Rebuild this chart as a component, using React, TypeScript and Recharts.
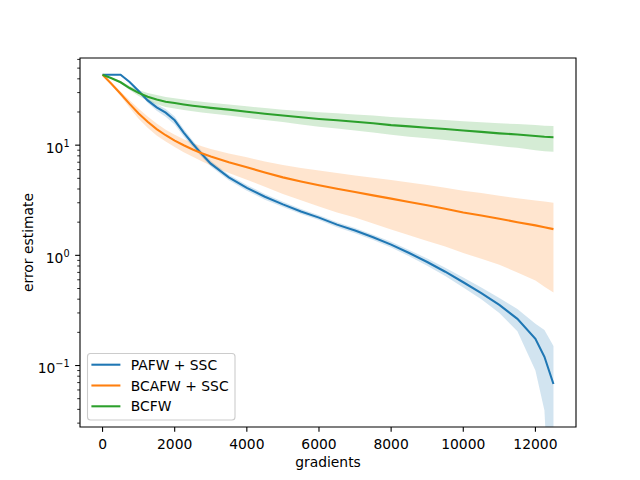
import React from 'react';
import { ComposedChart, Line, Area, XAxis, YAxis, Legend, ReferenceArea, Label } from 'recharts';

const gradients = [0, 250, 500, 750, 1000, 1250, 1500, 1750, 2000, 2250, 2500, 2750, 3000, 3500, 4000, 4500, 5000, 5500, 6000, 6500, 7000, 7500, 8000, 8500, 9000, 9500, 10000, 10500, 11000, 11500, 12000, 12250, 12500];

const pafwMean = [43.5, 43.5, 43.5, 37.5, 31, 25.5, 22, 19.7, 16.8, 13, 10.3, 8.3, 6.8, 5.1, 4.1, 3.4, 2.9, 2.5, 2.2, 1.9, 1.68, 1.46, 1.25, 1.05, 0.87, 0.71, 0.57, 0.455, 0.355, 0.265, 0.175, 0.12, 0.068];
const pafwLow = [43.5, 43.5, 43.5, 37, 30, 24.3, 20.5, 18.1, 15.4, 12, 9.6, 7.8, 6.4, 4.8, 3.85, 3.2, 2.74, 2.37, 2.09, 1.8, 1.59, 1.38, 1.175, 0.98, 0.805, 0.65, 0.51, 0.4, 0.3, 0.205, 0.09, 0.039, 0.001];
const pafwHigh = [43.5, 43.5, 43.5, 38, 32, 26.7, 23.5, 21.3, 18.2, 14, 11, 8.8, 7.2, 5.4, 4.35, 3.6, 3.06, 2.63, 2.31, 2.0, 1.77, 1.54, 1.325, 1.12, 0.935, 0.77, 0.63, 0.51, 0.41, 0.325, 0.24, 0.21, 0.15];

const bcafwMean = [43.5, 35.9, 29.3, 23.7, 19.4, 16.3, 14.0, 12.3, 11.0, 9.98, 9.14, 8.45, 7.89, 7.0, 6.3, 5.65, 5.1, 4.68, 4.33, 4.02, 3.75, 3.5, 3.27, 3.05, 2.85, 2.65, 2.45, 2.3, 2.15, 2.0, 1.87, 1.8, 1.73];
const bcafwLow = [43.5, 35.1, 27.9, 21.9, 17.4, 14.4, 12.25, 10.8, 9.6, 8.63, 7.84, 7.13, 6.54, 5.6, 4.85, 4.2, 3.6, 3.16, 2.78, 2.45, 2.2, 1.95, 1.72, 1.52, 1.35, 1.2, 1.05, 0.93, 0.82, 0.7, 0.59, 0.52, 0.46];
const bcafwHigh = [43.5, 36.7, 30.7, 25.5, 21.4, 18.2, 15.75, 13.8, 12.4, 11.33, 10.44, 9.77, 9.24, 8.4, 7.75, 7.1, 6.6, 6.2, 5.88, 5.59, 5.3, 5.05, 4.82, 4.58, 4.35, 4.1, 3.85, 3.67, 3.48, 3.3, 3.15, 3.08, 3.0];

const bcfwMean = [43.5, 40.5, 37.2, 33, 29.8, 27.5, 26, 24.8, 24.1, 23.4, 22.8, 22.3, 21.8, 21.0, 20.1, 19.3, 18.6, 17.9, 17.3, 16.8, 16.3, 15.8, 15.2, 14.8, 14.4, 14.0, 13.6, 13.2, 12.8, 12.5, 12.1, 11.9, 11.8];
const bcfwLow = [43.5, 40.0, 36.2, 31.6, 28.0, 25.3, 23.5, 22.2, 21.5, 20.8, 20.3, 19.8, 19.4, 18.6, 17.7, 16.9, 16.2, 15.4, 14.7, 14.15, 13.6, 13.05, 12.4, 11.95, 11.55, 11.12, 10.7, 10.25, 9.8, 9.45, 9.0, 8.8, 8.7];
const bcfwHigh = [43.5, 41.0, 38.2, 34.4, 31.6, 29.7, 28.5, 27.4, 26.7, 26.0, 25.3, 24.8, 24.2, 23.4, 22.5, 21.7, 21.0, 20.4, 19.9, 19.45, 19.0, 18.55, 18.0, 17.65, 17.25, 16.88, 16.5, 16.15, 15.8, 15.55, 15.2, 15.0, 14.9];

const xTicks = [0, 2000, 4000, 6000, 8000, 10000, 12000];
const yMajorTicks = [0.1, 1, 10];
const yMinorTicks = [0.03, 0.04, 0.05, 0.06, 0.07, 0.08, 0.09, 0.2, 0.3, 0.4, 0.5, 0.6, 0.7, 0.8, 0.9, 2, 3, 4, 5, 6, 7, 8, 9, 20, 30, 40, 50, 60];
const yTickLabels: Record<string, string> = { '0.1': '\u22121', '1': '0', '10': '1' };

const seriesNames = ['PAFW + SSC', 'BCAFW + SSC', 'BCFW'];
const seriesColors = ['#1f77b4', '#ff7f0e', '#2ca02c'];

const X_DOMAIN: [number, number] = [-625, 13125];
const Y_DOMAIN: [number, number] = [0.02767, 61.8];

const data = gradients.map((g, i) => ({
  g,
  pafw: pafwMean[i],
  pafwBand: [pafwLow[i], pafwHigh[i]],
  bcafw: bcafwMean[i],
  bcafwBand: [bcafwLow[i], bcafwHigh[i]],
  bcfw: bcfwMean[i],
  bcfwBand: [bcfwLow[i], bcfwHigh[i]],
}));

const FONT = 'DejaVu Sans';
const FS = 13.89;

const renderXTick = (props: any) => {
  const { x, y, payload } = props;
  return (
    <g>
      <line x1={x} x2={x} y1={y} y2={y + 4.86} stroke="#000" strokeWidth={1.1} />
      <text x={x} y={y + 22} textAnchor="middle" fontFamily={FONT} fontSize={FS} fill="#000">
        {String(payload.value)}
      </text>
    </g>
  );
};

const renderYTick = (props: any) => {
  const { x, y, payload } = props;
  const v = payload.value;
  const key = String(v);
  const isMajor = yMajorTicks.includes(v);
  if (!isMajor) {
    return <line x1={x - 2.78} x2={x} y1={y} y2={y} stroke="#000" strokeWidth={0.84} />;
  }
  return (
    <g>
      <line x1={x - 4.86} x2={x} y1={y} y2={y} stroke="#000" strokeWidth={1.1} />
      <text x={x - 10.4} y={y + 7.7} textAnchor="end" fontFamily={FONT} fontSize={FS} fill="#000">
        10<tspan dy={-6} fontSize={9.7}>{yTickLabels[key]}</tspan>
      </text>
    </g>
  );
};

const renderLegend = () => (
  <svg width={150} height={69} style={{ display: 'block', overflow: 'visible' }}>
    <rect x={0.5} y={0.5} width={147.5} height={66.5} rx={3} ry={3} fill="#ffffff" fillOpacity={0.8} stroke="#cccccc" strokeWidth={1.1} />
    {seriesNames.map((name, i) => {
      const ly = 11.7 + i * 20.8;
      return (
        <g key={name}>
          <line x1={4.4} x2={33.4} y1={ly} y2={ly} stroke={seriesColors[i]} strokeWidth={2.08} />
          <text x={43.7} y={ly + 5} fontFamily={FONT} fontSize={FS} fill="#000">{name}</text>
        </g>
      );
    })}
  </svg>
);

export default function App() {
  return (
    <div style={{ position: 'absolute', left: 0, top: 0, width: 640, height: 480, background: '#fff' }}>
      <ComposedChart width={640} height={480} data={data} margin={{ top: 58, right: 64, bottom: 0, left: 0 }}>
        <XAxis
          dataKey="g"
          type="number"
          domain={X_DOMAIN}
          allowDataOverflow
          ticks={xTicks}
          interval={0}
          height={53}
          tickSize={0}
          tickMargin={0}
          tickLine={false}
          axisLine={false}
          tick={renderXTick}
        >
          <Label
            content={(p: any) => {
              const vb = p.viewBox;
              return (
                <text x={vb.x + vb.width / 2} y={vb.y + 39.5} textAnchor="middle" fontFamily={FONT} fontSize={FS} fill="#000">
                  gradients
                </text>
              );
            }}
          />
        </XAxis>
        <YAxis
          type="number"
          scale="log"
          domain={Y_DOMAIN}
          allowDataOverflow
          ticks={[...yMinorTicks, ...yMajorTicks]}
          interval={0}
          width={80}
          tickSize={0}
          tickMargin={0}
          tickLine={false}
          axisLine={false}
          tick={renderYTick}
        >
          <Label
            content={(p: any) => {
              const vb = p.viewBox;
              const cx = vb.x + 33;
              const cy = vb.y + vb.height / 2;
              return (
                <text x={cx} y={cy} transform={`rotate(-90, ${cx}, ${cy})`} textAnchor="middle" fontFamily={FONT} fontSize={FS} fill="#000">
                  error estimate
                </text>
              );
            }}
          />
        </YAxis>
        <Area dataKey="pafwBand" type="linear" stroke="none" fill={seriesColors[0]} fillOpacity={0.2} isAnimationActive={false} dot={false} activeDot={false} />
        <Area dataKey="bcafwBand" type="linear" stroke="none" fill={seriesColors[1]} fillOpacity={0.2} isAnimationActive={false} dot={false} activeDot={false} />
        <Area dataKey="bcfwBand" type="linear" stroke="none" fill={seriesColors[2]} fillOpacity={0.2} isAnimationActive={false} dot={false} activeDot={false} />
        <Line dataKey="pafw" type="linear" stroke={seriesColors[0]} strokeWidth={2.08} dot={false} activeDot={false} isAnimationActive={false} />
        <Line dataKey="bcafw" type="linear" stroke={seriesColors[1]} strokeWidth={2.08} dot={false} activeDot={false} isAnimationActive={false} />
        <Line dataKey="bcfw" type="linear" stroke={seriesColors[2]} strokeWidth={2.08} dot={false} activeDot={false} isAnimationActive={false} />
        <ReferenceArea x1={X_DOMAIN[0]} x2={X_DOMAIN[1]} y1={Y_DOMAIN[0]} y2={Y_DOMAIN[1]} fill="none" fillOpacity={0} stroke="#000" strokeWidth={1.1} ifOverflow="visible" />
        <Legend
          layout="vertical"
          align="center"
          verticalAlign="middle"
          content={renderLegend}
          wrapperStyle={{ left: 87, top: 353, width: 150, height: 69 }}
        />
      </ComposedChart>
    </div>
  );
}
